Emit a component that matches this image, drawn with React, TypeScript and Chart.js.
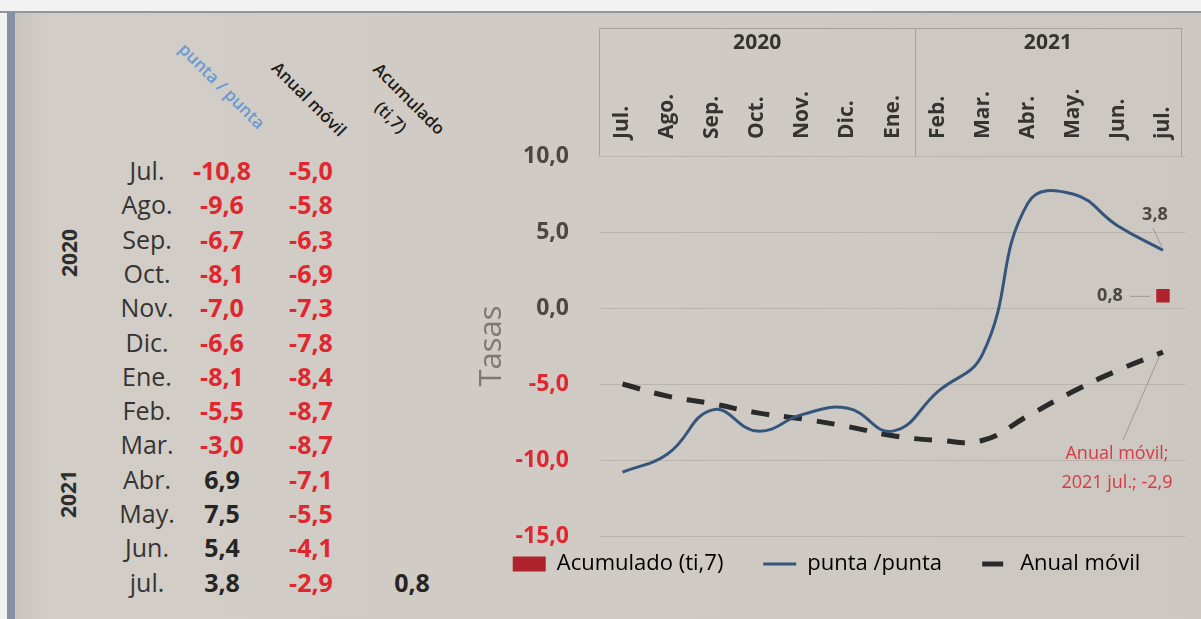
import React, { useEffect, useRef } from 'react';
import { Chart, registerables } from 'chart.js';

Chart.register(...registerables);
Chart.defaults.font.family = "'Open Sans', 'DejaVu Sans', sans-serif";

// ---------------- data ----------------
const months = ['Jul.', 'Ago.', 'Sep.', 'Oct.', 'Nov.', 'Dic.', 'Ene.', 'Feb.', 'Mar.', 'Abr.', 'May.', 'Jun.', 'jul.'];
const puntaPunta = [-10.8, -9.6, -6.7, -8.1, -7.0, -6.6, -8.1, -5.5, -3.0, 6.9, 7.5, 5.4, 3.8];
const anualMovil = [-5.0, -5.8, -6.3, -6.9, -7.3, -7.8, -8.4, -8.7, -8.7, -7.1, -5.5, -4.1, -2.9];
const acumulado: (number | null)[] = [null, null, null, null, null, null, null, null, null, null, null, null, 0.8];
const chartYears = ['2020', '2021'];
const chartYearSpans = [7, 6];
const tableYears = ['2020', '2021'];
const seriesNames = ['Acumulado (ti,7)', 'punta /punta', 'Anual móvil'];
const tableHeaders = ['punta / punta', 'Anual móvil', 'Acumulado\n(ti,7)'];
const yTitle = 'Tasas';
const yMin = -15;
const yMax = 10;
const yStep = 5;

// ---------------- styles ----------------
const RED_TEXT = '#e0262f';
const RED_SQ = '#b0222c';
const BLUE = '#36557c';
const DASH = '#2a2a2a';
const GRID = '#b9b4ad';
const BOX = '#a6a19a';
const AXIS_GRAY = '#4a4744';
const TEXT_DARK = '#363432';
const NOTE_RED = '#d63a44';
const CANVAS_LEFT = 460;
const CANVAS_TOP = 20;
const CANVAS_W = 735;
const CANVAS_H = 565;

const fmt = (v: number) => v.toFixed(1).replace('.', ',');

const headerPlugin = {
  id: 'headerBox',
  afterDraw(chart: any) {
    const { ctx, chartArea } = chart;
    const x = chart.scales.x;
    const half = (x.getPixelForValue(1) - x.getPixelForValue(0)) / 2;
    const top = 28 - CANVAS_TOP;
    const bottom = chartArea.top;
    const left = x.getPixelForValue(0) - half - 1;
    const right = x.getPixelForValue(months.length - 1) + half - 5;
    ctx.save();
    ctx.strokeStyle = BOX;
    ctx.lineWidth = 1;
    ctx.beginPath();
    ctx.moveTo(Math.round(left) + 0.5, Math.round(bottom) + 0.5);
    ctx.lineTo(Math.round(left) + 0.5, top + 0.5);
    ctx.lineTo(Math.round(right) + 0.5, top + 0.5);
    ctx.lineTo(Math.round(right) + 0.5, Math.round(bottom) + 0.5);
    ctx.stroke();
    ctx.fillStyle = TEXT_DARK;
    ctx.font = "bold 21px 'Open Sans'";
    ctx.textAlign = 'center';
    ctx.textBaseline = 'middle';
    let idx = 0;
    chartYears.forEach((yl, gi) => {
      const start = idx;
      const end = idx + chartYearSpans[gi] - 1;
      const x0 = gi === 0 ? left : x.getPixelForValue(start) - half;
      const x1 = gi === chartYears.length - 1 ? right : x.getPixelForValue(end) + half;
      if (gi > 0) {
        ctx.beginPath();
        ctx.moveTo(Math.round(x0) + 0.5, top);
        ctx.lineTo(Math.round(x0) + 0.5, bottom);
        ctx.stroke();
      }
      ctx.fillText(yl, (x0 + x1) / 2, top + 15);
      idx += chartYearSpans[gi];
    });
    ctx.restore();
  },
};

const labelsPlugin = {
  id: 'endLabels',
  afterDatasetsDraw(chart: any) {
    const { ctx } = chart;
    const x = chart.scales.x;
    const y = chart.scales.y;
    const n = months.length - 1;
    const px = x.getPixelForValue(n);
    ctx.save();
    ctx.strokeStyle = '#9c9893';
    ctx.lineWidth = 1;
    ctx.textAlign = 'center';
    ctx.textBaseline = 'middle';
    // punta/punta label
    const p1 = y.getPixelForValue(puntaPunta[n]);
    ctx.beginPath();
    ctx.moveTo(px - 10, p1 - 22);
    ctx.lineTo(px - 1, p1 - 3);
    ctx.stroke();
    ctx.fillStyle = '#4a4744';
    ctx.font = "bold 18px 'Open Sans'";
    ctx.fillText(fmt(puntaPunta[n]), px - 8, p1 - 35);
    // acumulado label
    const aval = acumulado[n] as number;
    const p2 = y.getPixelForValue(aval);
    ctx.beginPath();
    ctx.moveTo(px - 33, p2 + 0.5);
    ctx.lineTo(px - 13, p2 + 0.5);
    ctx.stroke();
    ctx.fillText(fmt(aval), px - 53, p2);
    // anual movil note
    const p3 = y.getPixelForValue(anualMovil[n]);
    ctx.beginPath();
    ctx.moveTo(px - 4, p3 + 5);
    ctx.lineTo(px - 40, p3 + 88);
    ctx.stroke();
    ctx.fillStyle = NOTE_RED;
    ctx.font = "18px 'Open Sans'";
    ctx.fillText(seriesNames[2] + ';', px - 46, p3 + 102);
    ctx.fillText(`${chartYears[1]} ${months[n]}; ${fmt(anualMovil[n])}`, px - 46, p3 + 131);
    ctx.restore();
  },
};

function ChartPanel() {
  const ref = useRef<HTMLCanvasElement | null>(null);
  useEffect(() => {
    if (!ref.current) return;
    const chart = new Chart(ref.current, {
      type: 'line',
      data: {
        labels: months,
        datasets: [
          {
            label: seriesNames[0],
            data: acumulado,
            showLine: false,
            pointStyle: 'rect',
            pointRadius: 9.5,
            pointBorderWidth: 0,
            pointBackgroundColor: RED_SQ,
            backgroundColor: RED_SQ,
            borderColor: RED_SQ,
          },
          {
            label: seriesNames[1],
            data: puntaPunta,
            borderColor: BLUE,
            borderWidth: 3,
            tension: 0.45,
            pointRadius: 0,
            fill: false,
          },
          {
            label: seriesNames[2],
            data: anualMovil,
            borderColor: DASH,
            borderWidth: 5,
            borderDash: [18, 15],
            tension: 0.45,
            pointRadius: 0,
            fill: false,
          },
        ],
      } as any,
      options: {
        responsive: false,
        animation: false,
        layout: { padding: { left: 0, right: 2, top: 0, bottom: 0 } },
        plugins: {
          tooltip: { enabled: false },
          legend: {
            position: 'bottom',
            labels: {
              usePointStyle: true,
              pointStyleWidth: 33,
              boxHeight: 15,
              padding: 17,
              color: TEXT_DARK,
              font: { size: 22 },
              generateLabels: () => [
                { text: seriesNames[0] + '    ', fillStyle: RED_SQ, strokeStyle: RED_SQ, lineWidth: 0, pointStyle: 'rect', datasetIndex: 0, hidden: false },
                { text: seriesNames[1] + '   ', fillStyle: BLUE, strokeStyle: BLUE, lineWidth: 3, pointStyle: 'line', datasetIndex: 1, hidden: false },
                { text: seriesNames[2], fillStyle: DASH, strokeStyle: DASH, lineWidth: 5, pointStyle: 'line', lineDash: [21, 100], lineDashOffset: -6, datasetIndex: 2, hidden: false },
              ],
            },
          },
        },
        scales: {
          x: {
            position: 'top',
            offset: true,
            grid: { display: false, drawTicks: false },
            border: { display: false },
            ticks: {
              autoSkip: false,
              minRotation: 90,
              maxRotation: 90,
              padding: 17,
              labelOffset: 25,
              color: TEXT_DARK,
              font: { size: 21, weight: 'bold' },
            },
            afterFit: (s: any) => {
              s.height = 136;
            },
          },
          y: {
            min: yMin,
            max: yMax,
            grid: { color: GRID, drawTicks: false, lineWidth: 1 },
            border: { display: false },
            ticks: {
              stepSize: yStep,
              padding: 31,
              callback: (v: any) => fmt(Number(v)),
              color: (c: any) => (c.tick && c.tick.value < 0 ? RED_TEXT : AXIS_GRAY),
              font: { size: 23, weight: 'bold' },
            },
            title: {
              display: true,
              text: yTitle,
              color: '#7c7975',
              font: { size: 31 },
              padding: { top: 14, bottom: 0 },
            },
            afterFit: (s: any) => {
              s.width = 140;
            },
          },
        },
      } as any,
      plugins: [headerPlugin, labelsPlugin],
    });
    return () => chart.destroy();
  }, []);
  return (
    <canvas
      ref={ref}
      width={CANVAS_W}
      height={CANVAS_H}
      style={{ position: 'absolute', left: CANVAS_LEFT, top: CANVAS_TOP, width: CANVAS_W, height: CANVAS_H }}
    />
  );
}

function Table() {
  const rowY = (i: number) => 170 + i * 34.3;
  const colX = [147, 222, 311, 412];
  const cell = (text: string, x: number, y: number, style: React.CSSProperties, key: string) => (
    <div
      key={key}
      style={{
        position: 'absolute',
        left: x,
        top: y,
        transform: 'translate(-50%, -50%)',
        lineHeight: 1,
        whiteSpace: 'nowrap',
        ...style,
      }}
    >
      {text}
    </div>
  );
  const items: React.ReactNode[] = [];
  months.forEach((m, i) => {
    const y = rowY(i);
    items.push(cell(m, colX[0], y, { fontSize: 25, color: TEXT_DARK }, 'm' + i));
    const v1 = puntaPunta[i];
    items.push(cell(fmt(v1), colX[1], y, { fontSize: 25, fontWeight: 700, color: v1 < 0 ? RED_TEXT : '#262524' }, 'a' + i));
    const v2 = anualMovil[i];
    items.push(cell(fmt(v2), colX[2], y, { fontSize: 25, fontWeight: 700, color: v2 < 0 ? RED_TEXT : '#262524' }, 'b' + i));
    const v3 = acumulado[i];
    if (v3 !== null) {
      items.push(cell(fmt(v3), colX[3], y, { fontSize: 25, fontWeight: 700, color: v3 < 0 ? RED_TEXT : '#262524' }, 'c' + i));
    }
  });
  const yearPos = [
    [69, 253],
    [68, 494],
  ];
  tableYears.forEach((yr, i) => {
    items.push(
      <div
        key={'y' + i}
        style={{
          position: 'absolute',
          left: yearPos[i][0],
          top: yearPos[i][1],
          transform: 'translate(-50%, -50%) rotate(-90deg)',
          lineHeight: 1,
          fontSize: 21,
          fontWeight: 700,
          color: '#2e2d2c',
        }}
      >
        {yr}
      </div>
    );
  });
  const headPos = [
    [222, 86, '#6a9ad2'],
    [309, 99, '#1e1d1c'],
    [400, 108, '#1e1d1c'],
  ];
  tableHeaders.forEach((h, i) => {
    items.push(
      <div
        key={'h' + i}
        style={{
          position: 'absolute',
          left: headPos[i][0] as number,
          top: headPos[i][1] as number,
          transform: 'translate(-50%, -50%) rotate(45deg)',
          lineHeight: '26px',
          fontSize: 17,
          fontWeight: 600,
          whiteSpace: 'pre',
          textAlign: 'center',
          color: headPos[i][2] as string,
        }}
      >
        {h}
      </div>
    );
  });
  return <>{items}</>;
}

export default function App() {
  return (
    <div
      style={{
        position: 'fixed',
        left: 0,
        top: 0,
        width: 1201,
        height: 619,
        overflow: 'hidden',
        background: '#f2f2f2',
        fontFamily: "'Open Sans', 'DejaVu Sans', sans-serif",
      }}
    >
      <div style={{ position: 'absolute', left: 0, top: 11, width: 1201, height: 2, background: '#9097a0' }} />
      <div style={{ position: 'absolute', left: 7, top: 12, width: 8, height: 607, background: '#8690a5' }} />
      <div
        style={{
          position: 'absolute',
          left: 15,
          top: 13,
          right: 0,
          bottom: 0,
          background: 'linear-gradient(90deg, #c9c4be 0%, #d2cdc7 3%, #d0cbc4 40%, #ccc7c0 100%)',
        }}
      />
      <Table />
      <ChartPanel />
    </div>
  );
}
